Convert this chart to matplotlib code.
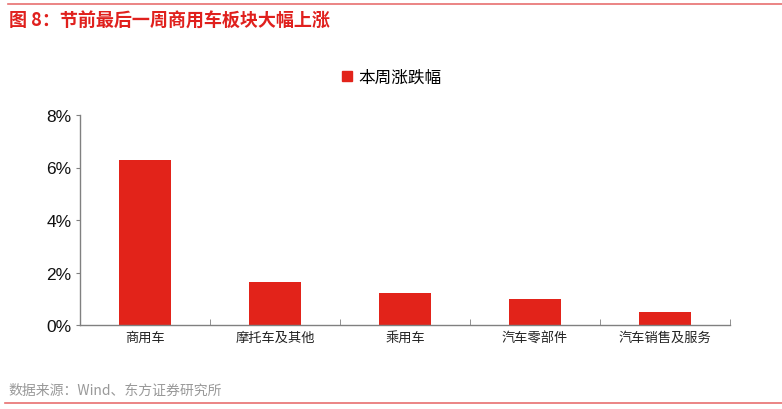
import matplotlib
matplotlib.use("Agg")
import matplotlib.pyplot as plt
from matplotlib.lines import Line2D
from matplotlib.ticker import FuncFormatter, FixedLocator

plt.rcParams['font.family'] = ['Noto Sans CJK SC', 'DejaVu Sans']

categories = ["商用车", "摩托车及其他", "乘用车", "汽车零部件", "汽车销售及服务"]
values = [6.27, 1.64, 1.22, 1.00, 0.50]
series_name = "本周涨跌幅"
title = "图 8：节前最后一周商用车板块大幅上涨"
source = "数据来源：Wind、东方证券研究所"

W, H = 782, 410
fig = plt.figure(figsize=(W / 100, H / 100), dpi=100)

ax = fig.add_axes([80 / W, 1 - 326 / H, 650 / W, 210 / H])
x = list(range(len(categories)))
ax.bar(x, values, width=0.4, color="#E2231A", zorder=2)
ax.set_xlim(-0.5, len(categories) - 0.5)
ax.set_ylim(0, 8)
ax.set_yticks([0, 2, 4, 6, 8])
ax.yaxis.set_major_formatter(FuncFormatter(lambda v, p: f"{v:.0f}%"))
ax.set_xticks(x)
ax.set_xticklabels(categories, fontsize=9.5, color="#222222")
ax.tick_params(axis="x", length=0, pad=4)
ax.xaxis.set_minor_locator(FixedLocator([i + 0.5 for i in range(len(categories))]))
ax.tick_params(axis="x", which="minor", direction="in", length=4, color="#808080")
ax.tick_params(axis="y", length=3, direction="out", color="#808080", labelsize=12.5, labelcolor="#111111", pad=3)
for lbl in ax.get_yticklabels():
    lbl.set_family(["Liberation Sans", "DejaVu Sans"])
for s in ["top", "right"]:
    ax.spines[s].set_visible(False)
for s in ["left", "bottom"]:
    ax.spines[s].set_color("#808080")
    ax.spines[s].set_linewidth(1.0)

handle = Line2D([], [], marker="s", color="none", markerfacecolor="#E2231A",
                markeredgecolor="#E2231A", markersize=7)
fig.legend([handle], [series_name], loc="center", bbox_to_anchor=(391 / W, 1 - 78 / H),
           frameon=False, fontsize=12, handlelength=0.8, handletextpad=0.3)

fig.add_artist(Line2D([8 / W, 1.0], [1 - 5 / H, 1 - 5 / H], color="#E87070", lw=1.2))
fig.add_artist(Line2D([5 / W, 1.0], [1 - 404 / H, 1 - 404 / H], color="#E87070", lw=1.2))
fig.text(9 / W, 1 - 21 / H, title, fontsize=13, fontweight="bold", color="#E0201D",
         va="center", ha="left")
fig.text(8 / W, 1 - 391 / H, source, fontsize=10, color="#999999", va="center", ha="left")

fig.savefig("out.png", dpi=100, facecolor="white")
